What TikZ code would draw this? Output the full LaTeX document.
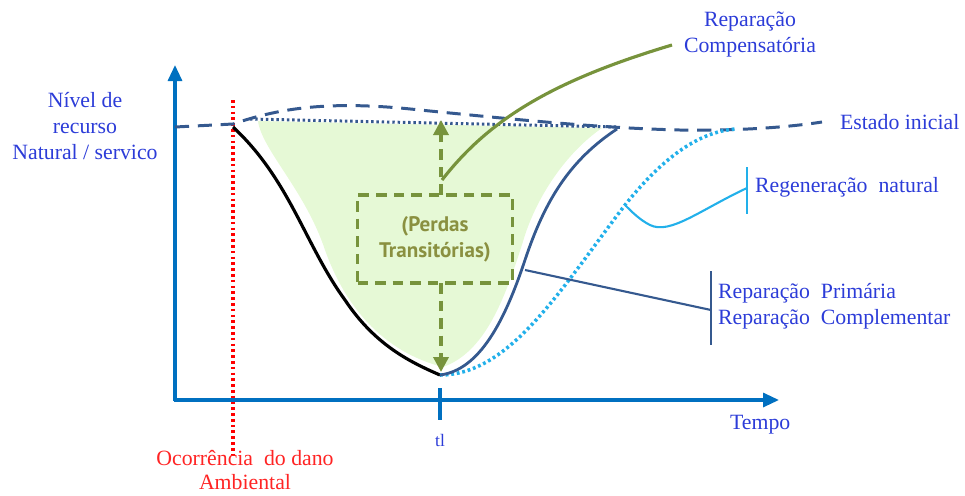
\documentclass[tikz,border=0pt]{standalone}
\usepackage{fontspec}
\setmainfont{Liberation Serif}
\newfontfamily\perdasfont{PT Sans}
\usetikzlibrary{arrows.meta, positioning}
\definecolor{axBlue}{HTML}{0070C0}
\definecolor{stBlue}{HTML}{35598F}
\definecolor{rgBlue}{HTML}{22B0EA}
\definecolor{cpGreen}{HTML}{77933C}
\definecolor{lsFill}{HTML}{E6F9D6}
\definecolor{txBlue}{HTML}{2C3CD8}
\definecolor{txRed}{HTML}{FF2424}
\definecolor{txOlive}{HTML}{8A9040}
\tikzset{
  axisline/.style  = {-{Triangle[length=3.2mm, width=2.8mm]}, line width=1.8pt, axBlue},
  statedash/.style = {stBlue, line width=1.7pt, dash pattern=on 8pt off 5pt},
  statedot/.style  = {stBlue, line width=1.7pt, dash pattern=on 1.4pt off 1.6pt},
  regendot/.style  = {rgBlue, line width=2pt, dash pattern=on 1.6pt off 1.6pt},
  damagedot/.style = {red, line width=2pt, dash pattern=on 1.5pt off 1.8pt},
  primpath/.style  = {stBlue, line width=1.6pt},
  lossbox/.style   = {draw=cpGreen, line width=2pt, dash pattern=on 6pt off 4pt},
  lossarrow/.style = {-{Triangle[length=3mm, width=3mm]}, cpGreen, line width=2pt,
                      dash pattern=on 6pt off 4pt},
  lbl/.style       = {font=\fontsize{12.4}{14.8}\selectfont, txBlue, inner sep=1pt},
  bracket/.style   = {line width=1.2pt},
}

\begin{document}
\begin{tikzpicture}[x=0.02cm, y=-0.02cm]
  \useasboundingbox (0,0) rectangle (965,495);
  % area of transitory losses
  \fill[lsFill] (258,121) -- (602,128)
    .. controls (570,150) and (540,190) .. (525,235)
    .. controls (505,300) and (485,352) .. (443,367)
    .. controls (395,355) and (350,320) .. (325,250)
    .. controls (305,190) and (262,150) .. (258,121) -- cycle;
  % axes
  \draw[axisline] (175,401) -- (175,65);
  \draw[axisline] (174,400) -- (779,400);
  \draw[axBlue, line width=1.8pt] (440,388) -- (440,420);
  % damage event
  \draw[damagedot] (233,100) -- (233,456);
  % initial state
  \draw[statedash] (175,127) -- (233,124)
    .. controls (280,108) and (330,100) .. (420,110)
    .. controls (520,120) and (600,128) .. (680,130)
    .. controls (740,131) and (790,127) .. (822,122);
  \draw[statedot] (250,119) -- (617,127);
  % compensatory repair
  \draw[cpGreen, line width=1.8pt] (442,180)
    .. controls (490,118) and (555,80) .. (672,45);
  % damage curve
  \draw[black, line width=1.8pt] (233,127)
    .. controls (290,180) and (305,245) .. (345,300)
    .. controls (375,345) and (410,362) .. (440,375);
  % natural regeneration
  \draw[regendot] (440,375)
    .. controls (510,375) and (560,290) .. (625,205)
    .. controls (665,155) and (700,132) .. (735,129);
  % primary repair
  \draw[primpath] (440,375)
    .. controls (480,370) and (505,320) .. (525,260)
    .. controls (545,200) and (570,160) .. (617,129);
  % losses box and arrows
  \node[lossbox, minimum width=155*0.02cm, minimum height=88*0.02cm] (loss) at (435,239) {};
  \node[font=\perdasfont\bfseries\fontsize{12}{15}\selectfont, txOlive, align=center] (losstxt)
    at (loss) {(Perdas\\Transitórias)};
  \coordinate (lossbot) at (441,372);
  \coordinate (losstop) at (441,120);
  \draw[lossarrow] (441,283) -- (lossbot);
  \draw[lossarrow] (441,195) -- (losstop);
  % labels
  \node[lbl, align=center] (ylbl) at (85,126) {Nível de\\recurso\\Natural / servico};
  \node[lbl, anchor=west] (tempo) at (728,425) {Tempo};
  \node[lbl, font=\fontsize{10}{12}\selectfont] (tl) at (440,440) {tl};
  \node[lbl, txRed, align=center, font=\fontsize{12.4}{13.6}\selectfont] (dano)
    at (245,470) {Ocorrência\ \ do dano\\Ambiental};
  \node[lbl, align=center] (comp) at (750,34) {Reparação\\Compensatória};
  \node[lbl, anchor=west] (estado) at (838,122) {Estado inicial};
  % regeneration bracket
  \coordinate (rgtop) at (747,167);
  \coordinate (rgbot) at (747,214);
  \coordinate (rgmid) at (747,188);
  \coordinate (rgend) at (625,205);
  \draw[rgBlue, bracket] (rgtop) -- (rgbot);
  \draw[rgBlue, line width=1.2pt] (rgmid) .. controls (700,210) and (670,235) .. (650,225)
    .. controls (640,220) and (632,212) .. (rgend);
  \node[lbl, anchor=west] (regen) at (753,187) {Regeneração\ \ natural};
  % primary/complementary bracket
  \coordinate (prtop) at (711,271);
  \coordinate (prbot) at (711,345);
  \coordinate (prmid) at (711,310);
  \coordinate (prend) at (525,270);
  \draw[stBlue, bracket] (prtop) -- (prbot);
  \draw[stBlue, line width=1.2pt] (prend) -- (prmid);
  \node[lbl, anchor=west, align=left] (prim) at (716,306)
    {Reparação\ \ Primária\\Reparação\ \ Complementar};
\end{tikzpicture}
\end{document}
